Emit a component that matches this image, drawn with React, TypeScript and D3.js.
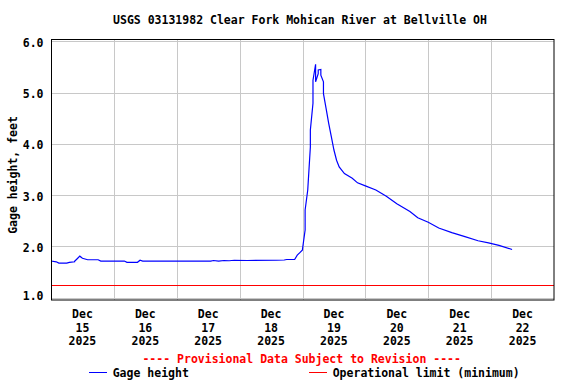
import React, { useRef, useEffect } from 'react'
import * as d3 from 'd3'

// hours since Dec 15 2025 00:00
const hoursFromStart = [
	0, 2, 3.4, 6.5, 7, 9, 9.5, 10.5, 11.1, 12.6, 14.1, 18, 19.5, 28.6, 29, 33.2, 34, 35.9,
	56.9, 61, 62, 64, 66, 68, 70, 75.9, 86, 89.9, 90.5, 93.7, 94.4, 95.7, 96.3, 96.5, 97.0,
	97.3, 98.2, 99.1, 99.6, 100.1, 100.6, 101.1, 101.3, 101.6, 102.1, 102.6, 103.1, 103.7,
	104.2, 104.7, 105.4, 106.5, 107.5, 108.5, 109.6, 110.9, 112.8, 115.3, 117.9, 120.5,
	124.3, 128.1, 132.5, 137.0, 140.8, 144.0, 148.4, 153.5, 158.6, 163.7, 167.5, 171.3, 176.4,
]
const gageFeet = [
	1.715, 1.7, 1.675, 1.675, 1.69, 1.7, 1.71, 1.76, 1.81, 1.77, 1.74, 1.74, 1.715, 1.715, 1.69,
	1.69, 1.73, 1.715, 1.715, 1.715, 1.725, 1.715, 1.725, 1.72, 1.73, 1.725, 1.73, 1.735, 1.745,
	1.745, 1.83, 1.88, 1.93, 1.95, 2.32, 2.71, 3.1, 3.94, 4.27, 4.79, 5.24, 5.55, 5.35, 5.21,
	5.37, 5.44, 5.45, 5.34, 5.21, 4.98, 4.69, 4.4, 4.14, 3.88, 3.68, 3.55, 3.42, 3.33, 3.24,
	3.18, 3.1, 2.98, 2.83, 2.68, 2.56, 2.47, 2.36, 2.27, 2.19, 2.11, 2.07, 2.02, 1.94,
]
const operationalLimit = 1.25
const yTicks = [1, 2, 3, 4, 5, 6]
const dayLabels = ['15', '16', '17', '18', '19', '20', '21', '22']
const monthLabel = 'Dec'
const yearLabel = '2025'

const FONT = '"DejaVu Sans Mono", "Liberation Mono", monospace'

const App = () => {
	const svgRef = useRef<SVGSVGElement | null>(null)

	const margin = { top: 39.5, right: 22, bottom: 84, left: 51 }
	const width = 576,
		height = 384

	useEffect(() => {
		const svg = d3.select(svgRef.current)
		svg.selectAll('*').remove()

		const start = new Date(2025, 11, 15)
		const end = new Date(2025, 11, 23)
		const x = d3.scaleTime().domain([start, end]).range([margin.left, width - margin.right])
		const y = d3
			.scaleLinear()
			.domain([0.955, 6.035])
			.range([height - margin.bottom, margin.top])

		const data = hoursFromStart.map((h, i) => ({
			t: d3.timeHour.offset(start, h),
			v: gageFeet[i],
		}))

		const g = svg.append('g').attr('font-family', FONT).attr('font-weight', 'bold')

		// title
		g.append('text')
			.attr('x', 300)
			.attr('y', 24)
			.attr('text-anchor', 'middle')
			.attr('font-size', 11.5)
			.text('USGS 03131982 Clear Fork Mohican River at Bellville OH')

		// grid
		const days = d3.timeDay.range(start, end)
		g.selectAll('line.vgrid')
			.data(days.slice(1))
			.enter()
			.append('line')
			.attr('x1', (d) => Math.round(x(d)) + 0.5)
			.attr('x2', (d) => Math.round(x(d)) + 0.5)
			.attr('y1', margin.top)
			.attr('y2', height - margin.bottom)
			.attr('stroke', '#c8c8c8')
		g.selectAll('line.hgrid')
			.data(yTicks)
			.enter()
			.append('line')
			.attr('x1', margin.left)
			.attr('x2', width - margin.right)
			.attr('y1', (d) => Math.round(y(d)) + 0.5)
			.attr('y2', (d) => Math.round(y(d)) + 0.5)
			.attr('stroke', '#c8c8c8')

		// operational limit
		g.append('line')
			.attr('x1', margin.left)
			.attr('x2', width - margin.right)
			.attr('y1', Math.round(y(operationalLimit)) + 0.5)
			.attr('y2', Math.round(y(operationalLimit)) + 0.5)
			.attr('stroke', '#ff0000')

		// gage line
		const line = d3
			.line<{ t: Date; v: number }>()
			.x((d) => x(d.t))
			.y((d) => y(d.v))
		g.append('path')
			.datum(data)
			.attr('d', line)
			.attr('fill', 'none')
			.attr('stroke', '#0000ff')
			.attr('stroke-width', 1.2)

		// frame
		g.append('rect')
			.attr('x', margin.left + 0.5)
			.attr('y', margin.top)
			.attr('width', width - margin.left - margin.right - 0.5)
			.attr('height', height - margin.top - margin.bottom)
			.attr('fill', 'none')
			.attr('stroke', '#000')

		// y tick labels
		g.selectAll('text.ytick')
			.data(yTicks)
			.enter()
			.append('text')
			.attr('x', 43.5)
			.attr('y', (d) => Math.min(y(d) + 5.4, 300))
			.attr('text-anchor', 'end')
			.attr('font-size', 11.5)
			.text((d) => d3.format('.1f')(d))

		g.append('text')
			.attr('transform', 'translate(16.5,175) rotate(-90)')
			.attr('text-anchor', 'middle')
			.attr('font-size', 11.5)
			.text('Gage height, feet')

		// x labels at noon
		days.forEach((d, i) => {
			const cx = x(d3.timeHour.offset(d, 12))
			const t = g.append('text').attr('text-anchor', 'middle').attr('font-size', 11.5)
			t.append('tspan').attr('x', cx).attr('y', 318).text(monthLabel)
			t.append('tspan').attr('x', cx).attr('y', 331.5).text(dayLabels[i])
			t.append('tspan').attr('x', cx).attr('y', 344.5).text(yearLabel)
		})

		// footer
		g.append('text')
			.attr('x', 301.7)
			.attr('y', 363)
			.attr('text-anchor', 'middle')
			.attr('font-size', 11.5)
			.attr('fill', '#ff0000')
			.text('---- Provisional Data Subject to Revision ----')

		g.append('line')
			.attr('x1', 89)
			.attr('x2', 107)
			.attr('y1', 372.5)
			.attr('y2', 372.5)
			.attr('stroke', '#0000ff')
		g.append('text').attr('x', 112.7).attr('y', 377).attr('font-size', 11.5).text('Gage height')
		g.append('line')
			.attr('x1', 309)
			.attr('x2', 327)
			.attr('y1', 372.5)
			.attr('y2', 372.5)
			.attr('stroke', '#ff0000')
		g.append('text')
			.attr('x', 332.7)
			.attr('y', 377)
			.attr('font-size', 11.5)
			.text('Operational limit (minimum)')
	}, [])

	return (
		<svg
			ref={svgRef}
			width={width}
			height={height}
			style={{ position: 'absolute', left: 0, top: 0, background: '#fff' }}
		></svg>
	)
}

export default App
